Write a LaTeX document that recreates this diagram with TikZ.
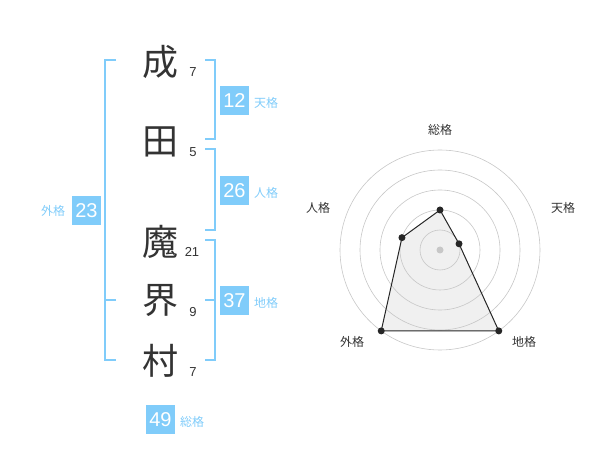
\documentclass[tikz,border=0pt]{standalone}
\usepackage{fontspec}
\newfontfamily\jp{Noto Sans CJK JP}
\newfontfamily\num{Liberation Sans}
\definecolor{sky}{HTML}{80CCFA}
\definecolor{txt}{HTML}{333333}
\begin{document}
\begin{tikzpicture}[x=1pt,y=-1pt,
  kanji/.style={font=\jp\fontsize{36}{36}\selectfont, text=txt, inner sep=0pt},
  stroke/.style={font=\num\fontsize{13}{13}\selectfont, text=txt, inner sep=0pt},
  brk/.style={draw=sky, line width=1.6pt},
  box/.style={fill=sky, text=white, minimum width=29pt, minimum height=29pt, inner sep=0pt, font=\num\fontsize{20}{20}\selectfont},
  lab/.style={text=sky, font=\jp\fontsize{12}{12}\selectfont, inner sep=0pt},
  ring/.style={draw=black!22, line width=0.6pt},
  axlab/.style={text=txt, font=\jp\fontsize{12}{12}\selectfont, inner sep=0pt},
  dot/.style={circle, fill=black!85, inner sep=0pt, minimum size=7pt}]
\useasboundingbox (0,0) rectangle (600,470);
% characters
\node[kanji] (c1) at (160,62) {成};
\node[kanji] (c2) at (160,142) {田};
\node[kanji] (c3) at (160,242) {魔};
\node[kanji] (c4) at (160,301) {界};
\node[kanji] (c5) at (160,361) {村};
\node[stroke] (s1) at (193,72) {7};
\node[stroke] (s2) at (193,152) {5};
\node[stroke] (s3) at (192,252) {21};
\node[stroke] (s4) at (193,312) {9};
\node[stroke] (s5) at (193,372) {7};
% brackets
\coordinate (la) at (116,60);
\coordinate (lb) at (116,300);
\coordinate (lc) at (116,360);
\draw[brk] (la) -- (105,60) -- (105,360) -- (lc);
\draw[brk] (lb) -- (105,300);
\coordinate (ta) at (205,60);
\coordinate (tb) at (205,139);
\draw[brk] (ta) -- (215,60) -- (215,139) -- (tb);
\coordinate (ja) at (205,149);
\coordinate (jb) at (205,230);
\draw[brk] (ja) -- (215,149) -- (215,230) -- (jb);
\coordinate (ca) at (205,240);
\coordinate (cb) at (205,360);
\coordinate (cm) at (205,300);
\draw[brk] (ca) -- (215,240) -- (215,360) -- (cb);
\draw[brk] (cm) -- (215,300);
% boxes
\node[box] (b23) at (86.5,210.5) {23};
\node[lab] (l23) at (53,211) {外格};
\node[box] (b12) at (234.5,100.5) {12};
\node[lab] (l12) at (266,103) {天格};
\node[box] (b26) at (234.5,191) {26};
\node[lab] (l26) at (266,193) {人格};
\node[box] (b37) at (234.5,300.5) {37};
\node[lab] (l37) at (266,303) {地格};
\node[box] (b49) at (160.5,419.5) {49};
\node[lab] (l49) at (192,422) {総格};
% radar
\coordinate (o) at (440,250);
\path (o) ++(-90:40) coordinate (p1);
\path (o) ++(-18:20) coordinate (p2);
\path (o) ++(54:100) coordinate (p3);
\path (o) ++(126:100) coordinate (p4);
\path (o) ++(198:40) coordinate (p5);
\fill[black!6] (p1) -- (p2) -- (p3) -- (p4) -- (p5) -- cycle;
\foreach \r in {20,40,60,80,100} \draw[ring] (o) circle[radius=\r];
\fill[black!22] (o) circle[radius=3.5];
\draw[black!85, line width=1pt] (p1) -- (p2) -- (p3) -- (p4) -- (p5) -- cycle;
\foreach \i in {1,...,5} \node[dot] (d\i) at (p\i) {};
\node[axlab] (a1) at (440,130) {総格};
\node[axlab] (a2) at (563,208) {天格};
\node[axlab] (a3) at (524,342) {地格};
\node[axlab] (a4) at (352,342) {外格};
\node[axlab] (a5) at (318,208) {人格};
\end{tikzpicture}
\end{document}
